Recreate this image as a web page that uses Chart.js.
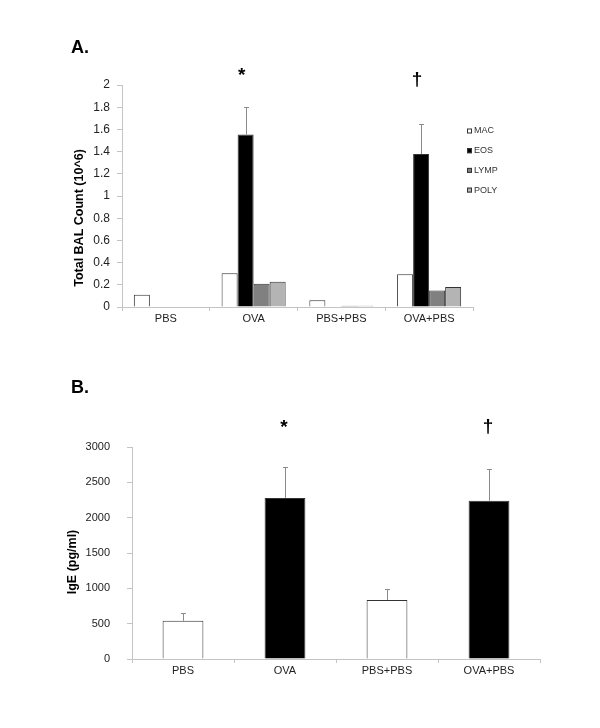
<!DOCTYPE html>
<html>
<head>
<meta charset="utf-8">
<script src="https://cdn.jsdelivr.net/npm/chart.js@4/dist/chart.umd.min.js"></script>
<style>
  body { margin: 0; background: #fff; width: 600px; height: 728px; position: relative; overflow: hidden; }
  .panel { position: absolute; left: 0; width: 600px; }
  .tag { position: absolute; z-index: 2; font: bold 18px/18px Arial, "Liberation Sans", sans-serif; color: #000; }
</style>
</head>
<body>
<div class="panel" style="top:0;height:345px"><canvas id="bal-chart"></canvas></div>
<div class="panel" style="top:345px;height:383px"><canvas id="ige-chart"></canvas></div>
<div class="tag" style="left:71px;top:38px">A.</div>
<div class="tag" style="left:71px;top:378px">B.</div>
<script>
const FONT = 'Arial, "Liberation Sans", sans-serif';

// groups on the x axis (both panels)
const groups = ['PBS', 'OVA', 'PBS+PBS', 'OVA+PBS'];

// panel A: BAL cell counts (10^6)
const macCounts = [0.11, 0.305, 0.06, 0.295];
const eosCounts = [0.004, 1.555, 0.004, 1.378];
const eosErrors = [0, 0.245, 0, 0.268];
const lympCounts = [0, 0.21, 0.012, 0.148];
const polyCounts = [0, 0.228, 0.012, 0.18];
const balTicks = { min: 0, max: 2, step: 0.2 };

// panel B: serum IgE (pg/ml)
const igeValues = [540, 2280, 835, 2240];
const igeErrors = [110, 440, 150, 455];
const igeTicks = { min: 0, max: 3000, step: 500 };

// significance marks above the groups
const marks = ['', '*', '', '\u2020'];

const AXIS = '#c4c4c4';

// draws error bars, significance marks, rotated y title and the small legend
const annotate = {
  id: 'annotate',
  afterDatasetsDraw(chart, args, opts) {
    const ctx = chart.ctx;
    const yScale = chart.scales.y;

    chart.data.datasets.forEach((ds, di) => {
      if (!ds.errors) return;
      chart.getDatasetMeta(di).data.forEach((bar, i) => {
        const err = ds.errors[i];
        if (!err) return;
        const bx = Math.round(bar.x) + 0.5;
        const top = Math.round(yScale.getPixelForValue(ds.data[i] + err)) + 0.5;
        ctx.save();
        ctx.strokeStyle = '#8a8a8a';
        ctx.lineWidth = 1;
        ctx.beginPath();
        ctx.moveTo(bx, bar.y);
        ctx.lineTo(bx, top);
        ctx.moveTo(bx - 2.5, top);
        ctx.lineTo(bx + 2.5, top);
        ctx.stroke();
        ctx.restore();
      });
    });

    const markBars = chart.getDatasetMeta(opts.markDataset).data;
    ctx.save();
    ctx.fillStyle = '#000';
    ctx.font = 'bold 19px ' + FONT;
    ctx.textAlign = 'center';
    ctx.textBaseline = 'alphabetic';
    marks.forEach((m, i) => {
      if (!m) return;
      ctx.fillText(m, markBars[i].x + opts.markDx, opts.markY[m]);
    });
    ctx.restore();

    ctx.save();
    ctx.fillStyle = '#000';
    ctx.font = 'bold 12.5px ' + FONT;
    ctx.textAlign = 'center';
    ctx.textBaseline = 'middle';
    ctx.translate(opts.title.x, opts.title.y);
    ctx.rotate(-Math.PI / 2);
    ctx.fillText(opts.title.text, 0, 0);
    ctx.restore();

    if (opts.legend) {
      const lg = opts.legend;
      ctx.save();
      ctx.font = '9px ' + FONT;
      ctx.textBaseline = 'middle';
      chart.data.datasets.forEach((ds, i) => {
        const cy = lg.y + i * lg.gap;
        ctx.fillStyle = ds.backgroundColor;
        ctx.fillRect(lg.x, cy - 2.5, 5, 5);
        ctx.strokeStyle = '#333';
        ctx.strokeRect(lg.x + 0.5, cy - 2, 4, 4);
        ctx.fillStyle = '#333';
        ctx.fillText(ds.label, lg.x + 7, cy);
      });
      ctx.restore();
    }
  }
};

function axes(range, yWidth, yPad, yFont) {
  return {
    x: {
      ticks: { font: { size: 11, family: FONT }, color: '#222', padding: 1 },
      grid: { drawOnChartArea: false, tickLength: 4, color: AXIS, offset: true },
      border: { color: AXIS },
      afterFit(s) { s.height = 25; }
    },
    y: {
      min: range.min,
      max: range.max,
      ticks: {
        stepSize: range.step,
        font: { size: yFont, family: FONT },
        color: '#222',
        padding: yPad,
        callback: v => String(Number(v.toFixed(2)))
      },
      grid: { drawOnChartArea: false, tickLength: 5, color: AXIS },
      border: { color: AXIS },
      afterFit(s) { s.width = yWidth; }
    }
  };
}

const balChart = new Chart(document.getElementById('bal-chart'), {
  type: 'bar',
  data: {
    labels: groups,
    datasets: [
      { label: 'MAC', data: macCounts, backgroundColor: '#ffffff' },
      { label: 'EOS', data: eosCounts, errors: eosErrors, backgroundColor: '#000000' },
      { label: 'LYMP', data: lympCounts, backgroundColor: '#808080' },
      { label: 'POLY', data: polyCounts, backgroundColor: '#b4b4b4' }
    ].map(ds => Object.assign(ds, {
      borderColor: '#333', borderWidth: 1, categoryPercentage: 0.73, barPercentage: 1
    }))
  },
  options: {
    responsive: true,
    maintainAspectRatio: false,
    animation: false,
    layout: { padding: { top: 85, right: 127, bottom: 13, left: 0 } },
    scales: axes(balTicks, 122, 7, 12),
    plugins: {
      legend: { display: false },
      tooltip: { enabled: false },
      annotate: {
        markDataset: 1,
        markDx: -4,
        markY: { '*': 81, '\u2020': 85 },
        title: { text: 'Total BAL Count (10^6)', x: 80, y: 218 },
        legend: { x: 467, y: 131, gap: 19.7 }
      }
    }
  },
  plugins: [annotate]
});

const igeChart = new Chart(document.getElementById('ige-chart'), {
  type: 'bar',
  data: {
    labels: groups,
    datasets: [{
      label: 'IgE',
      data: igeValues,
      errors: igeErrors,
      backgroundColor: ['#ffffff', '#000000', '#ffffff', '#000000'],
      borderColor: '#333',
      borderWidth: 1,
      categoryPercentage: 1,
      barPercentage: 0.4
    }]
  },
  options: {
    responsive: true,
    maintainAspectRatio: false,
    animation: false,
    layout: { padding: { top: 102, right: 60, bottom: 44, left: 0 } },
    scales: axes(igeTicks, 132, 17, 11),
    plugins: {
      legend: { display: false },
      tooltip: { enabled: false },
      annotate: {
        markDataset: 0,
        markDx: -1,
        markY: { '*': 88, '\u2020': 87 },
        title: { text: 'IgE (pg/ml)', x: 73, y: 217 }
      }
    }
  },
  plugins: [annotate]
});
</script>
</body>
</html>
